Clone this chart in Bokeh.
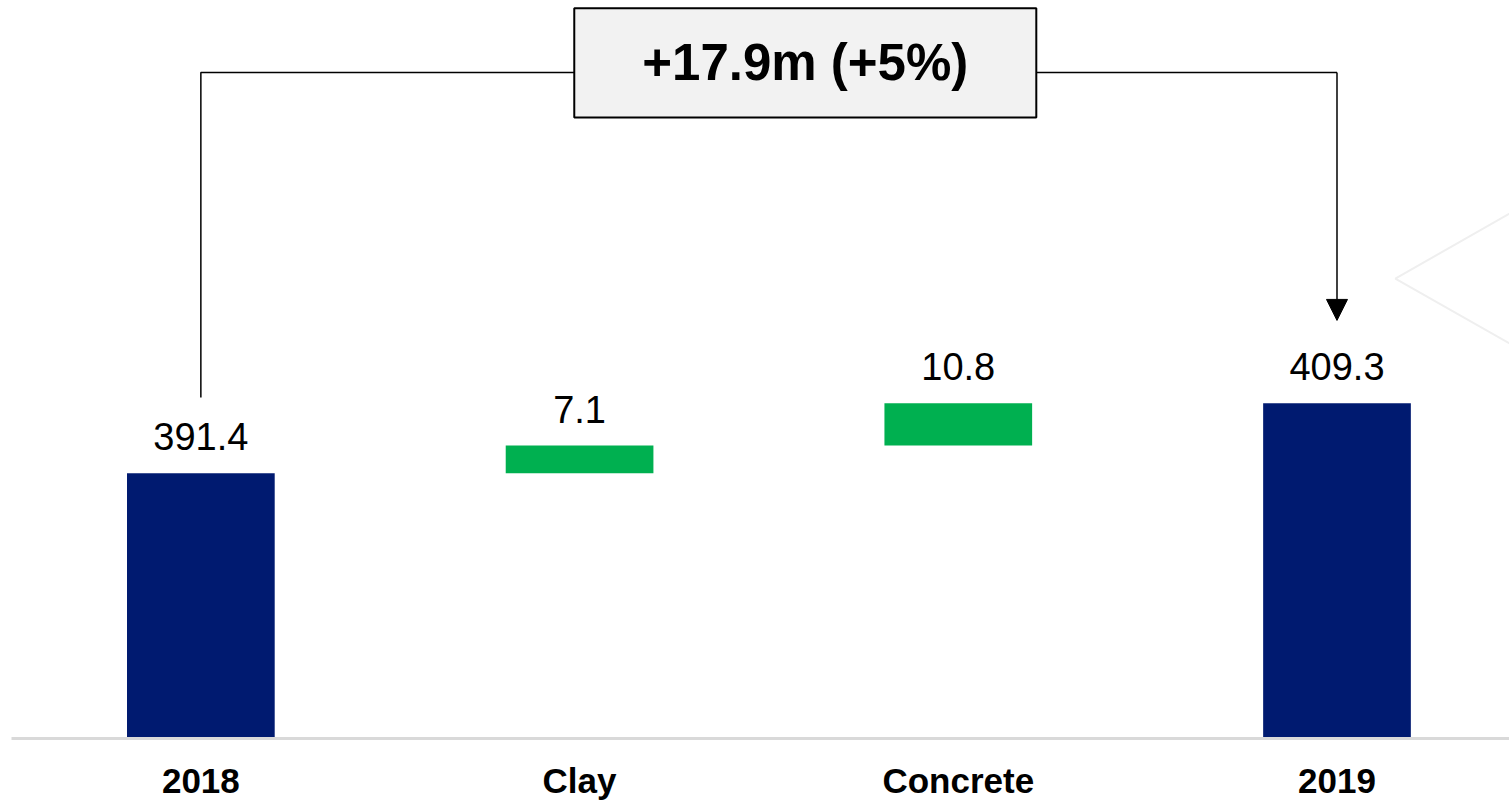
from bokeh.plotting import figure
from bokeh.models import ColumnDataSource, Range1d, FixedTicker, Arrow, NormalHead, LabelSet, Label
from bokeh.core.properties import value
from bokeh.embed import file_html
from bokeh.resources import INLINE

# --- data -------------------------------------------------------------
categories = ["2018", "Clay", "Concrete", "2019"]
start_total = 391.4
changes = [7.1, 10.8]          # Clay, Concrete
end_total = 409.3
headline = "+17.9m (+5%)"

# --- styling ----------------------------------------------------------
NAVY = "#001A70"
GREEN = "#00B050"
FONT = "Liberation Sans"
AXIS_FLOOR = 323.6               # value where the baseline sits
Y_TOP = 512.3

# waterfall geometry built from the values
bottoms, tops, colors, labels = [], [], [], []
bottoms.append(AXIS_FLOOR); tops.append(start_total); colors.append(NAVY); labels.append(f"{start_total:.1f}")
running = start_total
for c in changes:
    bottoms.append(running); tops.append(running + c); colors.append(GREEN); labels.append(f"{c:.1f}")
    running += c
bottoms.append(AXIS_FLOOR); tops.append(end_total); colors.append(NAVY); labels.append(f"{end_total:.1f}")

xs = list(range(len(categories)))
src = ColumnDataSource(dict(x=xs, bottom=bottoms, top=tops, color=colors, label=labels))

p = figure(width=1509, height=802, output_backend="svg", toolbar_location=None,
           x_range=Range1d(-0.5, 3.4555), y_range=Range1d(AXIS_FLOOR, Y_TOP),
           min_border_left=11, min_border_right=0, min_border_top=0, min_border_bottom=64)
p.outline_line_color = None
p.grid.visible = False
p.yaxis.visible = False
p.background_fill_color = "white"
p.border_fill_color = "white"

p.vbar(x="x", bottom="bottom", top="top", width=0.39, color="color", line_color=None, source=src)

p.add_layout(LabelSet(x="x", y="top", text="label", source=src, y_offset=23,
                      text_align="center", text_baseline="alphabetic",
                      text_font=value(FONT), text_font_size="38px", text_color="black"))

ax = p.xaxis[0]
ax.ticker = FixedTicker(ticks=xs)
ax.major_label_overrides = {i: c for i, c in enumerate(categories)}
ax.major_tick_line_color = None
ax.minor_tick_line_color = None
ax.axis_line_color = "#d9d9d9"
ax.axis_line_width = 3
ax.major_label_text_font = FONT
ax.major_label_text_font_style = "bold"
ax.major_label_text_font_size = "35px"
ax.major_label_text_color = "black"
ax.major_label_standoff = 16

# --- total-change callout --------------------------------------------
conn_y = 493.9
box_l, box_r, box_b, box_t = 0.986, 2.206, 482.4, 510.3
p.line([0, 0, box_l], [start_total + 19.4, conn_y, conn_y], line_color="black", line_width=1.5)
p.line([box_r, 3], [conn_y, conn_y], line_color="black", line_width=1.5)
p.add_layout(Arrow(x_start=3, y_start=conn_y, x_end=3, y_end=end_total + 21.2,
                   line_color="black", line_width=1.5,
                   end=NormalHead(size=21, fill_color="black", line_color="black")))
p.quad(left=[box_l], right=[box_r], bottom=[box_b], top=[box_t],
       fill_color="#f2f2f2", line_color="black", line_width=2)
p.add_layout(Label(x=(box_l + box_r) / 2, y=(box_b + box_t) / 2, text=headline,
                   text_align="center", text_baseline="middle", text_font=FONT,
                   text_font_style="bold", text_font_size="51px", text_color="black"))

# faint chevron in the right margin
p.line([3.4555, 3.154, 3.4555], [457.8, 441.2, 424.6], line_color="#efefef", line_width=2)

open("out.html", "w").write(file_html(p, INLINE))
